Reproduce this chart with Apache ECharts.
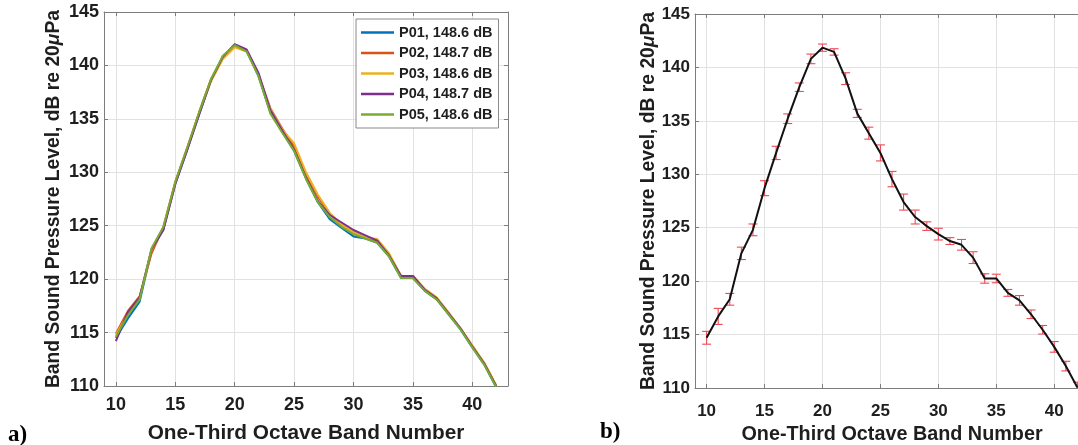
<!DOCTYPE html>
<html><head><meta charset="utf-8">
<script src="https://cdn.jsdelivr.net/npm/echarts@6/dist/echarts.min.js"></script>
<style>html,body{margin:0;padding:0;background:#fff}#c{width:1078px;height:445px}</style>
</head><body><div id="c"></div>
<script>
// ---- data ----
const bands = [10,11,12,13,14,15,16,17,18,19,20,21,22,23,24,25,26,27,28,29,30,31,32,33,34,35,36,37,38,39,40,41,42];
const p01 = [114.5,116.3,117.9,122.7,124.7,128.9,132.1,135.4,138.6,140.8,141.9,141.4,139.0,135.6,133.8,132.0,129.4,127.2,125.6,124.8,124.0,123.8,123.4,122.1,120.1,120.1,118.9,118.1,116.7,115.3,113.6,112.0,109.9];
const p02 = [114.9,117.0,118.4,122.4,124.9,129.1,132.3,135.6,138.7,140.7,141.9,141.4,139.1,136.0,134.1,132.4,129.7,127.7,126.1,125.1,124.4,123.9,123.5,122.2,120.3,120.3,119.0,118.2,116.8,115.4,113.7,112.1,110.0];
const p03 = [114.8,116.7,118.3,122.7,124.8,129.0,132.2,135.5,138.5,140.6,141.7,141.3,139.1,135.9,134.0,132.7,130.0,127.9,126.2,125.1,124.4,123.9,123.75,122.4,120.3,120.3,119.1,118.3,116.9,115.4,113.8,112.2,110.1];
const p04 = [114.2,116.9,118.3,122.8,124.6,128.9,132.1,135.4,138.6,140.8,142.0,141.5,139.3,135.8,133.9,132.1,129.5,127.3,126.0,125.3,124.6,124.1,123.6,122.2,120.3,120.3,119.0,118.2,116.8,115.4,113.7,112.1,110.0];
const p05 = [114.6,116.6,118.1,122.9,124.9,129.1,132.3,135.6,138.7,140.9,141.9,141.3,139.0,135.5,133.7,132.0,129.4,127.2,125.8,124.9,124.2,123.8,123.4,122.1,120.1,120.1,118.9,118.1,116.7,115.3,113.6,112.0,109.9];
const seriesNames = ['P01, 148.6 dB','P02, 148.7 dB','P03, 148.6 dB','P04, 148.7 dB','P05, 148.6 dB'];
const meanLevel = [114.7,116.7,118.3,122.6,124.8,128.7,132.0,135.2,138.15,140.8,141.85,141.45,138.95,135.7,133.85,132.0,129.55,127.4,126.0,125.15,124.4,123.75,123.4,122.2,120.25,120.25,118.9,118.2,116.9,115.45,113.85,112.05,110.05];
const levelSpread = [0.6,0.75,0.55,0.58,0.55,0.7,0.62,0.45,0.4,0.45,0.34,0.3,0.55,0.38,0.56,0.75,0.72,0.75,0.65,0.4,0.55,0.32,0.5,0.55,0.44,0.4,0.32,0.45,0.4,0.4,0.5,0.45,0.5];
const xTickValues = [10,15,20,25,30,35,40];
const yTickValues = [110,115,120,125,130,135,140,145];
const xTitle = 'One-Third Octave Band Number';
const yTitle = 'Band Sound Pressure Level, dB re 20{mu|\u03bc}Pa';

// ---- styling ----
const FF = "'Liberation Sans', Arial, Helvetica, sans-serif";
const AX = '#7d7d7d', GRID = '#e2e2e2', TXT = '#1e1e1e';
const colors = ['#0072BD','#D95319','#EDB120','#7E2F8E','#77AC30'];

function xAxes(gi, fs, margin, tfs, gap) {
  const common = {type:'value', gridIndex:gi, min:9, max:43, minInterval:5, maxInterval:5};
  return [
    Object.assign({}, common, {
      position:'bottom',
      axisLine:{show:true,onZero:false,lineStyle:{color:AX,width:1}},
      axisTick:{show:true,inside:true,length:4,lineStyle:{color:AX}},
      axisLabel:{show:true,margin:margin,color:TXT,fontSize:fs,fontWeight:'bold',fontFamily:FF,
        formatter:v => xTickValues.indexOf(Math.round(v*1000)/1000) >= 0 ? String(v) : ''},
      splitLine:{show:true,lineStyle:{color:GRID,width:1}},
      name:xTitle,nameLocation:'middle',nameGap:gap,
      nameTextStyle:{color:TXT,fontSize:tfs,fontWeight:'bold',fontFamily:FF}
    }),
    Object.assign({}, common, {
      position:'top',
      axisLine:{show:true,onZero:false,lineStyle:{color:AX,width:1}},
      axisTick:{show:true,inside:true,length:4,lineStyle:{color:AX}},
      axisLabel:{show:false},splitLine:{show:false}
    })
  ];
}
function yAxes(gi, fs, margin, tfs, gap) {
  const common = {type:'value', gridIndex:gi, min:110, max:145, interval:5};
  return [
    Object.assign({}, common, {
      position:'left',
      axisLine:{show:true,onZero:false,lineStyle:{color:AX,width:1}},
      axisTick:{show:true,inside:true,length:4,lineStyle:{color:AX}},
      axisLabel:{show:true,margin:margin,color:TXT,fontSize:fs,fontWeight:'bold',fontFamily:FF},
      splitLine:{show:true,lineStyle:{color:GRID,width:1}},
      name:yTitle,nameLocation:'middle',nameGap:gap,
      nameTextStyle:{color:TXT,fontSize:tfs,fontWeight:'bold',fontFamily:FF,
        rich:{mu:{color:TXT,fontSize:tfs,fontWeight:'bold',fontStyle:'italic',fontFamily:FF}}}
    }),
    Object.assign({}, common, {
      position:'right',
      axisLine:{show:true,onZero:false,lineStyle:{color:AX,width:1}},
      axisTick:{show:true,inside:true,length:4,lineStyle:{color:AX}},
      axisLabel:{show:false},splitLine:{show:false}
    })
  ];
}

const pSeries = [p01,p02,p03,p04,p05];
const series = pSeries.map((arr, i) => ({
  name: seriesNames[i], type:'line', xAxisIndex:0, yAxisIndex:0,
  data: bands.map((b, k) => [b, arr[k]]), symbol:'none', showSymbol:false,
  lineStyle:{width:2,color:colors[i]}, itemStyle:{color:colors[i]}, z:2+i, animation:false
}));
series.push({
  type:'custom', xAxisIndex:2, yAxisIndex:2, clip:true, animation:false, z:3,
  data: bands.map((b, k) => [b, meanLevel[k], levelSpread[k]]),
  encode:{x:0,y:1},
  renderItem:(params, api) => {
    const x = api.value(0), y = api.value(1), e = api.value(2);
    const t = api.coord([x, y + e]), b = api.coord([x, y - e]);
    const hw = 4.5, st = {stroke:'#ee4a55', lineWidth:1.1};
    return {type:'group', children:[
      {type:'line', shape:{x1:t[0],y1:t[1],x2:b[0],y2:b[1]}, style:st},
      {type:'line', shape:{x1:t[0]-hw,y1:t[1],x2:t[0]+hw,y2:t[1]}, style:st},
      {type:'line', shape:{x1:b[0]-hw,y1:b[1],x2:b[0]+hw,y2:b[1]}, style:st}
    ]};
  }
});
series.push({
  type:'line', xAxisIndex:2, yAxisIndex:2, data: bands.map((b, k) => [b, meanLevel[k]]),
  symbol:'none', showSymbol:false, lineStyle:{width:2,color:'#111'}, z:4, animation:false
});

const chart = echarts.init(document.getElementById('c'), null, {renderer:'canvas'});
chart.setOption({
  animation:false,
  backgroundColor:'#fff',
  grid:[
    {left:104, top:12, width:404, height:374, containLabel:false, outerBoundsMode:'none'},
    {left:695, top:14, width:394, height:374, containLabel:false, outerBoundsMode:'none'}
  ],
  xAxis:[...xAxes(0,18,10,20.8,37), ...xAxes(1,17,15,19.8,35)],
  yAxis:[...yAxes(0,18,5,19.3,41), ...yAxes(1,17,5,19.3,35)],
  legend:{
    show:true, orient:'vertical', left:356, top:19, data:seriesNames, selectedMode:false,
    icon:'rect', itemWidth:33, itemHeight:2.5, itemGap:5.5, itemTextGap:3,
    padding:[6,6,6,5], borderColor:'#8a8a8a', borderWidth:1, backgroundColor:'#fff',
    textStyle:{color:TXT,fontSize:14.5,fontWeight:'bold',fontFamily:FF}
  },
  graphic:[
    {type:'text', left:8, top:424, style:{text:'a)', fill:'#000', font:"bold 23px 'Liberation Serif', 'Times New Roman', serif"}},
    {type:'text', left:600, top:421, style:{text:'b)', fill:'#000', font:"bold 23px 'Liberation Serif', 'Times New Roman', serif"}}
  ],
  series: series
});
</script></body></html>
